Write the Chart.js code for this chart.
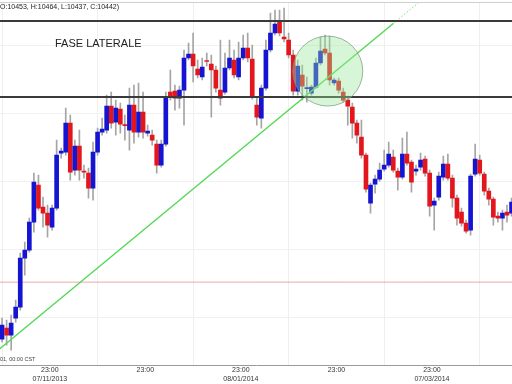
<!DOCTYPE html>
<html>
<head>
<meta charset="utf-8">
<script src="https://cdn.jsdelivr.net/npm/chart.js@4.4.1/dist/chart.umd.min.js"></script>
<style>
    body { margin: 0; background: #fff; }
    #box { position: relative; width: 512px; height: 384px; overflow: hidden; font-family: "Liberation Sans", Arial, sans-serif; }
    #grafico { position: absolute; left: 0; top: 0; }
    .txt { position: absolute; white-space: nowrap; color: #222; }
    #bordaTopo { position: absolute; left: 0; top: 2px; width: 512px; height: 1px; background: #cfcfcf; }
</style>
</head>
<body>
<div id="box">
    <canvas id="grafico" width="512" height="384"></canvas>
    <div id="bordaTopo"></div>
    <div class="txt" style="left:0px; top:3px; font-size:7px; line-height:8px;">O:10453, H:10464, L:10437, C:10442)</div>
    <div class="txt" style="left:55px; top:38px; font-size:11px; line-height:11px;">FASE LATERALE</div>
    <div class="txt" style="left:0px; top:356px; font-size:5.5px; line-height:6px; color:#444;">01, 00:00 CST</div>
</div>
<script>
const grafico = document.getElementById('grafico');

// candele giornaliere (O, H, L, C)
var aperture = [10192, 10214, 10200, 10234, 10256, 10354, 10370, 10426, 10500, 10456,
    10444, 10416, 10454, 10564, 10566, 10624, 10530, 10578, 10528, 10524,
    10494, 10566, 10606, 10610, 10658, 10626, 10652, 10621, 10610, 10660,
    10606, 10646, 10604, 10600, 10582, 10540, 10582, 10686, 10688, 10674,
    10690, 10754, 10762, 10732, 10716, 10749, 10742, 10730, 10690, 10686,
    10734, 10750, 10716, 10754, 10774, 10752, 10660, 10634, 10694, 10770,
    10804, 10826, 10796, 10790, 10760, 10688, 10720, 10693, 10684, 10696,
    10744, 10772, 10764, 10704, 10708, 10686, 10670, 10656, 10624, 10596,
    10560, 10464, 10502, 10512, 10532, 10540, 10556, 10528, 10516, 10562,
    10546, 10528, 10536, 10552, 10524, 10460, 10476, 10516, 10542, 10514,
    10474, 10446, 10424, 10410, 10522, 10550, 10522, 10488, 10472, 10438,
    10434, 10446, 10444];
var massimi = [10234, 10230, 10240, 10270, 10364, 10386, 10434, 10524, 10520, 10476,
    10460, 10460, 10590, 10574, 10654, 10640, 10590, 10610, 10540, 10534,
    10586, 10614, 10634, 10680, 10686, 10670, 10664, 10640, 10694, 10700,
    10704, 10686, 10620, 10610, 10590, 10590, 10686, 10730, 10700, 10698,
    10770, 10784, 10804, 10750, 10754, 10764, 10760, 10738, 10790, 10764,
    10790, 10770, 10786, 10800, 10804, 10780, 10676, 10700, 10790, 10844,
    10850, 10850, 10854, 10804, 10770, 10750, 10740, 10716, 10700, 10754,
    10796, 10800, 10798, 10714, 10714, 10694, 10678, 10664, 10630, 10630,
    10564, 10504, 10520, 10544, 10570, 10586, 10570, 10534, 10594, 10606,
    10550, 10540, 10564, 10558, 10530, 10474, 10526, 10558, 10562, 10520,
    10480, 10454, 10430, 10522, 10582, 10560, 10526, 10494, 10476, 10446,
    10450, 10460, 10474];
var minimi = [10186, 10180, 10170, 10226, 10250, 10320, 10366, 10406, 10450, 10416,
    10396, 10410, 10450, 10554, 10560, 10510, 10520, 10510, 10514, 10474,
    10470, 10560, 10600, 10604, 10614, 10600, 10604, 10590, 10570, 10584,
    10596, 10594, 10598, 10580, 10524, 10536, 10578, 10670, 10650, 10654,
    10620, 10750, 10706, 10714, 10710, 10738, 10636, 10686, 10660, 10682,
    10730, 10714, 10710, 10750, 10746, 10672, 10620, 10614, 10690, 10766,
    10800, 10798, 10786, 10754, 10680, 10680, 10670, 10666, 10680, 10694,
    10740, 10760, 10700, 10700, 10684, 10666, 10620, 10594, 10584, 10554,
    10486, 10444, 10484, 10508, 10528, 10536, 10526, 10490, 10512, 10540,
    10486, 10520, 10530, 10518, 10438, 10410, 10470, 10510, 10510, 10456,
    10420, 10418, 10404, 10400, 10518, 10520, 10480, 10460, 10420, 10426,
    10410, 10426, 10438];
var chiusure = [10220, 10200, 10224, 10256, 10354, 10370, 10426, 10506, 10454, 10444,
    10420, 10454, 10560, 10568, 10624, 10526, 10578, 10530, 10526, 10494,
    10566, 10606, 10612, 10658, 10624, 10654, 10622, 10619, 10660, 10606,
    10646, 10606, 10608, 10590, 10540, 10582, 10676, 10676, 10674, 10690,
    10754, 10762, 10738, 10720, 10736, 10747, 10730, 10694, 10674, 10734,
    10754, 10720, 10754, 10774, 10754, 10676, 10636, 10694, 10770, 10804,
    10822, 10804, 10792, 10760, 10688, 10738, 10698, 10695, 10696, 10744,
    10768, 10764, 10710, 10710, 10690, 10670, 10658, 10624, 10600, 10560,
    10492, 10500, 10512, 10530, 10540, 10562, 10530, 10516, 10562, 10544,
    10506, 10532, 10550, 10524, 10458, 10468, 10518, 10542, 10514, 10474,
    10434, 10424, 10408, 10518, 10552, 10524, 10488, 10472, 10436, 10434,
    10444, 10440, 10466];

// etichette asse x (indice candela all'apertura delle 23:00)
var tickIndici = [10.5, 31.5, 52.5, 73.5, 94.5];
var tickEtichette = [['23:00', '07/11/2013'], '23:00', ['23:00', '08/01/2014'], '23:00', ['23:00', '07/03/2014']];

// livelli e trendline
var resistenza = 10828;
var supporto = 10676;
var linhaRossa = 10306;
var trendX = [-1, 86];
var trendY = [10169, 10823];
var trendTratteggioX = [86, 94];
var trendTratteggioY = [10823, 10883];
var cerchioX = 71.6;
var cerchioY = 10728;
var griglia = [10236, 10372, 10508, 10644, 10780];

var xMin = -0.45;
var xMax = 112.1;

var corpi = [];
var stoppini = [];
var coloriCorpi = [];
for (var i = 0; i < aperture.length; i++) {
    corpi.push({ x: i, y: [aperture[i], chiusure[i]] });
    stoppini.push({ x: i, y: [minimi[i], massimi[i]] });
    coloriCorpi.push(chiusure[i] >= aperture[i] ? '#1414d2' : '#e3161c');
}

function linea(xs, ys) {
    var pts = [];
    for (var k = 0; k < xs.length; k++) pts.push({ x: xs[k], y: ys[k] });
    return pts;
}

var graficoCandele = new Chart(grafico, {
    type: 'bar',
    data: {
        datasets: [
            {
                type: 'bubble',
                data: [{ x: cerchioX, y: cerchioY }],
                radius: 35,
                backgroundColor: 'rgba(150, 232, 150, 0.38)',
                borderColor: 'rgba(120, 150, 120, 0.7)',
                borderWidth: 1,
                order: 0
            },
            {
                type: 'line',
                data: linea([xMin - 1, xMax + 1], [resistenza, resistenza]),
                borderColor: '#3a3a3a',
                borderWidth: 2,
                pointRadius: 0,
                order: 1
            },
            {
                type: 'line',
                data: linea([xMin - 1, xMax + 1], [supporto, supporto]),
                borderColor: '#3a3a3a',
                borderWidth: 2,
                pointRadius: 0,
                order: 1
            },
            {
                type: 'line',
                data: linea(trendX, trendY),
                borderColor: '#55d955',
                borderWidth: 1.5,
                pointRadius: 0,
                order: 1
            },
            {
                type: 'line',
                data: linea(trendTratteggioX, trendTratteggioY),
                borderColor: '#7be07b',
                borderWidth: 1,
                borderDash: [1.5, 2],
                pointRadius: 0,
                order: 1
            },
            {
                type: 'line',
                data: linea([xMin - 1, xMax + 1], [linhaRossa, linhaRossa]),
                borderColor: 'rgba(228, 140, 140, 0.75)',
                borderWidth: 1,
                pointRadius: 0,
                order: 4
            },
            {
                data: corpi,
                backgroundColor: coloriCorpi,
                barThickness: 4,
                minBarLength: 1,
                grouped: false,
                order: 2
            },
            {
                data: stoppini,
                backgroundColor: '#a5a5a5',
                barThickness: 1,
                grouped: false,
                order: 3
            }
        ]
    },
    options: {
        responsive: false,
        animation: false,
        layout: { autoPadding: false, padding: { top: 3, left: 0, right: 0, bottom: 0 } },
        plugins: {
            legend: { display: false },
            tooltip: { enabled: false }
        },
        scales: {
            x: {
                type: 'linear',
                min: xMin,
                max: xMax,
                offset: false,
                afterBuildTicks: function (scale) {
                    scale.ticks = tickIndici.map(function (v) { return { value: v }; });
                },
                afterFit: function (scale) {
                    scale.paddingLeft = 0;
                    scale.paddingRight = 0;
                },
                grid: { color: '#efefef', drawTicks: false },
                border: { color: '#9a9a9a' },
                ticks: {
                    autoSkip: false,
                    maxRotation: 0,
                    padding: 1,
                    color: '#333',
                    font: { family: 'Liberation Sans, Arial, sans-serif', size: 7, lineHeight: 1.2 },
                    callback: function (value) {
                        var idx = tickIndici.indexOf(value);
                        return idx >= 0 ? tickEtichette[idx] : '';
                    }
                }
            },
            y: {
                position: 'right',
                min: 10140,
                max: 10864,
                afterBuildTicks: function (scale) {
                    scale.ticks = griglia.map(function (v) { return { value: v }; });
                },
                grid: { color: '#f1f1f1', drawTicks: false },
                border: { display: false },
                ticks: { display: false }
            }
        }
    }
});
</script>
</body>
</html>
